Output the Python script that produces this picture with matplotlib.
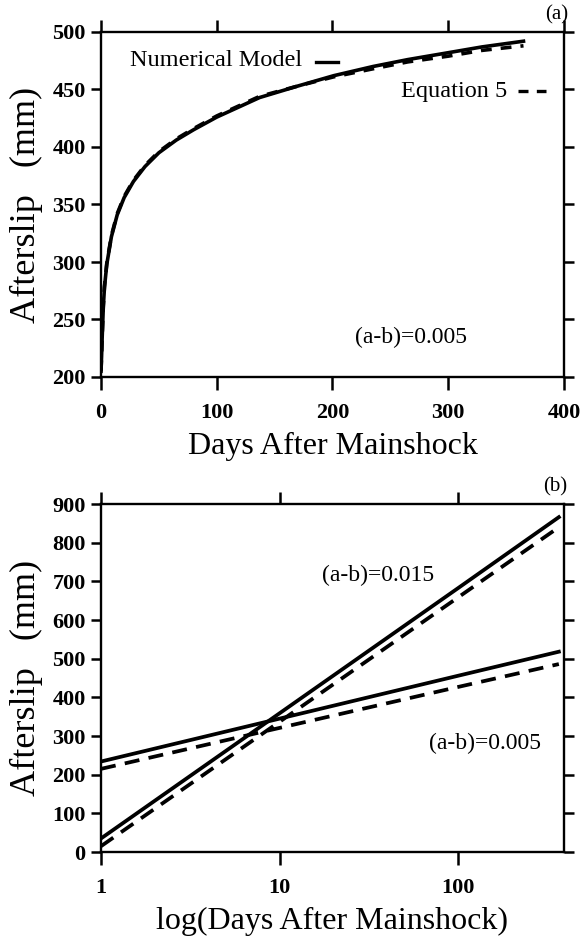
import matplotlib
matplotlib.use('Agg')
import matplotlib.pyplot as plt

plt.rcParams['font.family'] = ['Liberation Serif', 'DejaVu Serif']

# panel (a): afterslip vs days, (a-b)=0.005
days_a = [0, 0.5, 1, 2, 3, 5, 9, 14, 20, 28, 38, 50, 65, 80, 100, 137, 170, 201, 235, 265, 300, 329, 365]
numerical_a = [205, 218, 234, 261, 278, 298, 322, 341, 356, 370, 383, 395, 406, 415, 426, 443, 453, 462, 470, 476, 482, 487, 492]
equation_a = [205, 218, 235, 262, 279, 299, 323, 342, 357, 371, 384, 396, 407, 416, 427, 444, 453, 461, 468, 474, 479, 484, 488]

# panel (b): afterslip vs log(days)
days_b = [1, 10, 100, 365]
num_015 = [35, 359, 683, 866]
eq_015 = [15, 337, 659, 840]
num_005 = [234, 345, 456, 518]
eq_005 = [215, 321, 427, 486]

W, H = 582, 936
fig = plt.figure(figsize=(W / 100, H / 100), dpi=100)


def px(x, y):
    # pixel position (from top-left) to figure fraction
    return x / W, 1 - y / H


def style(ax):
    for s in ax.spines.values():
        s.set_linewidth(1.7)
    ax.tick_params(which='major', direction='out', length=7, width=1.8,
                   top=True, right=True, labeltop=False, labelright=False,
                   pad=4)
    ax.tick_params(axis='x', which='major', length=9, pad=10)
    ax.tick_params(which='minor', length=0)
    for lab in ax.get_xticklabels() + ax.get_yticklabels():
        lab.set_fontweight('bold')
        lab.set_fontsize(16)


# ---- top panel ----
ax1 = fig.add_axes([101 / W, 1 - 377 / H, 463 / W, 345 / H])
ax1.plot(days_a, numerical_a, color='black', lw=2.6)
ax1.plot(days_a, equation_a, color='black', lw=2.6, ls=(0, (3, 2.5)))
ax1.set_xlim(0, 400)
ax1.set_ylim(200, 500)
ax1.set_xticks([0, 100, 200, 300, 400])
ax1.set_yticks([200, 250, 300, 350, 400, 450, 500])
style(ax1)
ax1.set_xlabel('Days After Mainshock', fontsize=23, labelpad=6)
ax1.set_ylabel('Afterslip   (mm)', fontsize=26, labelpad=7)

fig.text(*px(130, 61), 'Numerical Model', fontsize=17.5, va='center', ha='left')
fig.text(*px(401, 91), 'Equation 5', fontsize=17.5, va='center', ha='left')
fig.text(*px(411, 337), '(a-b)=0.005', fontsize=17, va='center', ha='center')
fig.text(*px(557, 15), '(a)', fontsize=15, ha='center', va='center')

# legend samples
fig.add_artist(plt.Line2D([316 / W, 338 / W], [1 - 62 / H, 1 - 62 / H],
                          color='black', lw=2.4))
fig.add_artist(plt.Line2D([518 / W, 546 / W], [1 - 91 / H, 1 - 91 / H],
                          color='black', lw=2.4, ls=(0, (3, 2.5))))

# ---- bottom panel ----
ax2 = fig.add_axes([101 / W, 1 - 852 / H, 463 / W, 348 / H])
ax2.plot(days_b, num_015, color='black', lw=2.7)
ax2.plot(days_b, eq_015, color='black', lw=2.7, ls=(0, (4, 2.5)))
ax2.plot(days_b, num_005, color='black', lw=2.7)
ax2.plot(days_b, eq_005, color='black', lw=2.7, ls=(0, (4, 2.5)))
ax2.set_xscale('log')
ax2.set_xlim(1, 390)
ax2.set_ylim(0, 900)
ax2.set_xticks([1, 10, 100])
ax2.set_xticklabels(['1', '10', '100'])
ax2.set_yticks(range(0, 901, 100))
style(ax2)
ax2.set_xlabel('log(Days After Mainshock)', fontsize=23, labelpad=6)
ax2.set_ylabel('Afterslip   (mm)', fontsize=26, labelpad=7)

fig.text(*px(378, 575), '(a-b)=0.015', fontsize=17, va='center', ha='center')
fig.text(*px(485, 743), '(a-b)=0.005', fontsize=17, va='center', ha='center')
fig.text(*px(555, 487), '(b)', fontsize=15, ha='center', va='center')

fig.savefig('out.png', dpi=100)
